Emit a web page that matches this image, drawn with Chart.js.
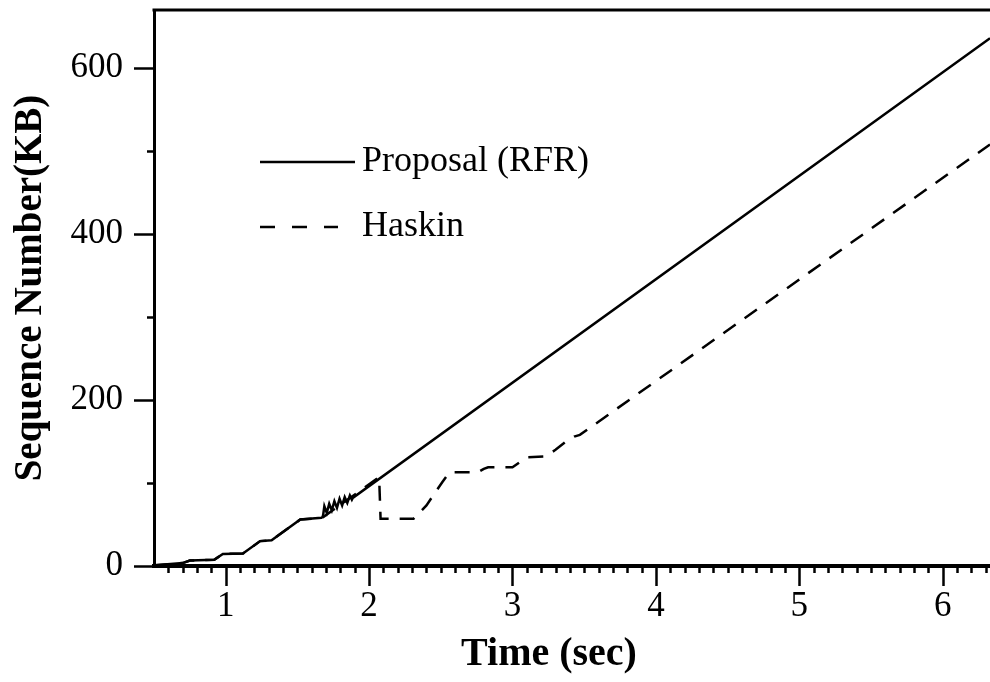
<!DOCTYPE html>
<html>
<head>
<meta charset="utf-8">
<title>Sequence Number vs Time</title>
<script src="https://cdn.jsdelivr.net/npm/chart.js@4.4.1/dist/chart.umd.min.js"></script>
<style>
  html, body { margin: 0; padding: 0; background: #fff; overflow: hidden; }
  canvas { display: block; }
</style>
</head>
<body>
<canvas id="seqChart" width="990" height="682"></canvas>
<script>
// Proposal (RFR): time in sec, sequence number in KB
const proposalTime = [0.50, 0.51, 0.70, 0.75, 0.92, 0.98, 1.12, 1.24, 1.32, 1.52, 1.667,
    1.676, 1.680, 1.688, 1.705, 1.722, 1.740, 1.758, 1.776, 1.794, 1.812, 1.830,
    1.848, 1.866, 1.880, 1.886, 6.33];
const proposalSeq = [0, 1, 3.5, 6.5, 7.5, 14.5, 15, 30, 31, 56, 58,
    59, 62, 72, 64, 75, 67, 78, 70, 81, 73, 83,
    76, 85, 80, 82, 636];

// Haskin
const haskinTime = [0.50, 0.51, 0.70, 0.75, 0.92, 0.98, 1.12, 1.24, 1.32, 1.52, 1.667,
    1.68, 2.07, 2.08, 2.31, 2.40, 2.51, 2.56, 2.76, 2.80, 2.83, 3.00, 3.10, 3.23,
    3.30, 3.38, 3.43, 3.47, 6.33];
const haskinSeq = [0, 1, 3.5, 6.5, 7.5, 14.5, 15, 30, 31, 56, 58,
    59, 107, 57, 57, 73, 101, 113, 113, 117, 119, 119, 131, 132,
    140, 151, 156, 158, 508];

// Axis ticks
const xMajorTicks = [1, 2, 3, 4, 5, 6];
const xMinorFirst = 6;   // tenths of a second
const xMinorLast = 63;
const yMajorTicks = [0, 200, 400, 600];
const yMinorTicks = [100, 300, 500];

const serif = "'Liberation Serif', 'Times New Roman', serif";

function toPoints(xs, ys) {
    return xs.map(function (x, i) { return { x: x, y: ys[i] }; });
}

// Draws tick marks, top frame line, the legend and the x title
const frameAndTicks = {
    id: 'frameAndTicks',
    afterDraw: function (chart) {
        const ctx = chart.ctx;
        const area = chart.chartArea;
        const xs = chart.scales.x;
        const ys = chart.scales.y;
        ctx.save();
        ctx.strokeStyle = '#000';
        ctx.lineCap = 'butt';

        // top frame line
        ctx.lineWidth = 3;
        ctx.beginPath();
        ctx.moveTo(area.left - 1.5, area.top);
        ctx.lineTo(area.right, area.top);
        ctx.stroke();

        // x tick marks
        ctx.lineWidth = 2.5;
        xs.ticks.forEach(function (t) {
            const px = Math.round(xs.getPixelForValue(t.value)) + 0.5;
            const len = xMajorTicks.includes(t.value) ? 20 : 7;
            ctx.beginPath();
            ctx.moveTo(px, area.bottom);
            ctx.lineTo(px, area.bottom + len);
            ctx.stroke();
        });

        // y tick marks
        ys.ticks.forEach(function (t) {
            const py = Math.round(ys.getPixelForValue(t.value)) + 0.5;
            const len = yMajorTicks.includes(t.value) ? 20 : 7;
            ctx.beginPath();
            ctx.moveTo(area.left - len, py);
            ctx.lineTo(area.left, py);
            ctx.stroke();
        });

        // legend
        const lx = area.left + 106;
        const ly1 = area.top + 152;
        const ly2 = area.top + 217;
        ctx.lineWidth = 2.5;
        ctx.beginPath();
        ctx.moveTo(lx, ly1);
        ctx.lineTo(lx + 95, ly1);
        ctx.stroke();
        ctx.setLineDash([15, 17]);
        ctx.beginPath();
        ctx.moveTo(lx, ly2);
        ctx.lineTo(lx + 78, ly2);
        ctx.stroke();
        ctx.setLineDash([]);
        ctx.fillStyle = '#000';
        ctx.font = '36px ' + serif;
        ctx.textAlign = 'left';
        ctx.textBaseline = 'middle';
        ctx.fillText(chart.data.datasets[0].label, lx + 102, ly1);
        ctx.fillText(chart.data.datasets[1].label, lx + 102, ly2);

        // x axis title
        ctx.font = 'bold 40px ' + serif;
        ctx.textAlign = 'center';
        ctx.fillText('Time (sec)', 549, 655);
        ctx.restore();
    }
};

const ctx_seq = document.getElementById('seqChart').getContext('2d');
const seqChart = new Chart(ctx_seq, {
    type: 'line',
    data: {
        datasets: [{
            label: 'Proposal (RFR)',
            data: toPoints(proposalTime, proposalSeq),
            borderColor: '#000',
            borderWidth: 2.5,
            pointRadius: 0,
            tension: 0,
            fill: false
        }, {
            label: 'Haskin',
            data: toPoints(haskinTime, haskinSeq),
            borderColor: '#000',
            borderWidth: 2.5,
            borderDash: [15, 11],
            pointRadius: 0,
            tension: 0,
            fill: false
        }]
    },
    options: {
        responsive: false,
        animation: false,
        layout: { padding: { top: 10, right: 0, bottom: 0, left: 0 } },
        plugins: {
            legend: { display: false },
            tooltip: { enabled: false }
        },
        scales: {
            x: {
                type: 'linear',
                min: 0.5,
                max: 6.33,
                afterBuildTicks: function (scale) {
                    const ticks = [];
                    for (let i = xMinorFirst; i <= xMinorLast; i++) {
                        ticks.push({ value: i / 10 });
                    }
                    scale.ticks = ticks;
                },
                afterFit: function (scale) {
                    scale.height = 116;
                    scale.paddingLeft = 0;
                    scale.paddingRight = 0;
                },
                grid: { display: false, drawTicks: false },
                border: { display: true, color: '#000', width: 4 },
                ticks: {
                    autoSkip: false,
                    maxRotation: 0,
                    padding: 20,
                    color: '#000',
                    font: { family: serif, size: 35 },
                    callback: function (value) {
                        return xMajorTicks.includes(value) ? String(value) : '';
                    }
                }
            },
            y: {
                type: 'linear',
                min: 0,
                max: 670,
                afterBuildTicks: function (scale) {
                    scale.ticks = yMajorTicks.concat(yMinorTicks)
                        .sort(function (a, b) { return a - b; })
                        .map(function (v) { return { value: v }; });
                },
                afterFit: function (scale) {
                    scale.width = 154;
                    scale.paddingTop = 0;
                    scale.paddingBottom = 0;
                },
                grid: { display: false, drawTicks: false },
                border: { display: true, color: '#000', width: 3 },
                ticks: {
                    padding: 31,
                    color: '#000',
                    font: { family: serif, size: 35 },
                    callback: function (value) {
                        return yMajorTicks.includes(value) ? String(value) : '';
                    }
                },
                title: {
                    display: true,
                    text: 'Sequence Number(KB)',
                    color: '#000',
                    font: { family: serif, size: 39, weight: 'bold' },
                    padding: { top: 8, bottom: 0 }
                }
            }
        }
    },
    plugins: [frameAndTicks]
});
</script>
</body>
</html>
